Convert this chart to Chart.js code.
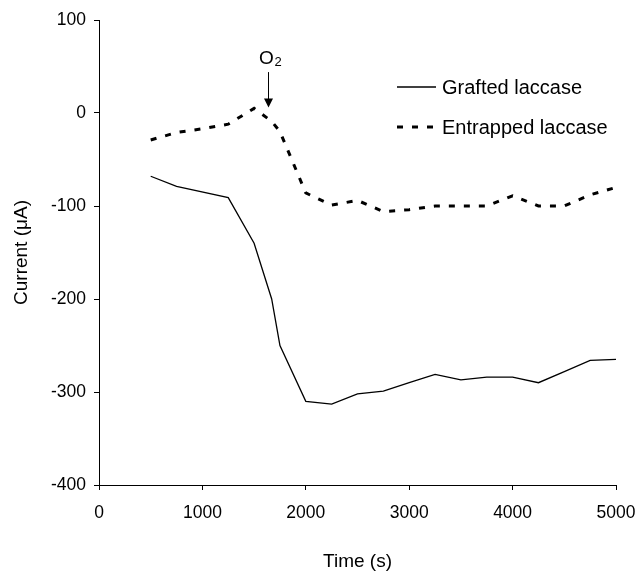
<!DOCTYPE html>
<html>
<head>
<meta charset="utf-8">
<script src="https://cdn.jsdelivr.net/npm/chart.js@4.4.1/dist/chart.umd.min.js"></script>
<style>
  html, body { margin: 0; padding: 0; background: #fff; }
  canvas { display: block; }
</style>
</head>
<body>
<canvas id="chart" width="638" height="572"></canvas>
<script>
// values
const graftedTimes = [500, 750, 1250, 1500, 1670, 1750, 2000, 2250, 2500, 2750, 3000, 3250, 3500, 3750, 4000, 4250, 4500, 4750, 5000];
const graftedCurrent = [-68, -79, -91, -140, -200, -250, -310, -313, -302, -299, -290, -281, -287, -284, -284, -290, -278, -266, -265];

const entrappedTimes = [500, 750, 1000, 1250, 1500, 1670, 1750, 2000, 2250, 2500, 2750, 3000, 3250, 3500, 3750, 4000, 4250, 4500, 4750, 5000];
const entrappedCurrent = [-29, -21, -17, -12, 5, -9, -20, -86, -99, -94, -106, -104, -100, -100, -100, -89, -100, -100, -88, -80];

const seriesNames = ["Grafted laccase", "Entrapped laccase"];
const xTicks = [0, 1000, 2000, 3000, 4000, 5000];
const yTicks = [-400, -300, -200, -100, 0, 100];

// O2 injection marker (time, arrow start, arrow tip in µA)
const o2Time = 1630;
const o2ArrowTop = 44;
const o2ArrowTip = 6;

const FONT = "'Liberation Sans', Arial, sans-serif";

function toPoints(xs, ys) {
    return xs.map((x, i) => ({ x: x, y: ys[i] }));
}

// legend drawn inside the plot, like the original figure
const legendPlugin = {
    id: 'insideLegend',
    afterDraw(chart) {
        const ctx = chart.ctx;
        const rows = [
            { y: 87, ds: chart.data.datasets[0] },
            { y: 127, ds: chart.data.datasets[1] }
        ];
        ctx.save();
        rows.forEach(r => {
            ctx.beginPath();
            ctx.strokeStyle = r.ds.borderColor;
            ctx.lineWidth = r.ds.borderWidth;
            ctx.setLineDash(r.ds.borderDash || []);
            ctx.moveTo(397, r.y);
            ctx.lineTo(436, r.y);
            ctx.stroke();
            ctx.setLineDash([]);
            ctx.fillStyle = '#000';
            ctx.font = '20px ' + FONT;
            ctx.textBaseline = 'middle';
            ctx.textAlign = 'left';
            ctx.fillText(r.ds.label, 442, r.y + 1);
        });
        ctx.restore();
    }
};

// O2 label with arrow
const o2Plugin = {
    id: 'o2Marker',
    afterDraw(chart) {
        const ctx = chart.ctx;
        const xs = chart.scales.x, ys = chart.scales.y;
        const px = Math.round(xs.getPixelForValue(o2Time)) + 0.5;
        const top = ys.getPixelForValue(o2ArrowTop);
        const tip = ys.getPixelForValue(o2ArrowTip);
        ctx.save();
        ctx.strokeStyle = '#000';
        ctx.fillStyle = '#000';
        ctx.lineWidth = 1;
        ctx.beginPath();
        ctx.moveTo(px, top);
        ctx.lineTo(px, tip - 8);
        ctx.stroke();
        ctx.beginPath();
        ctx.moveTo(px - 4.5, tip - 9);
        ctx.lineTo(px + 4.5, tip - 9);
        ctx.lineTo(px, tip);
        ctx.closePath();
        ctx.fill();
        ctx.textBaseline = 'alphabetic';
        ctx.textAlign = 'left';
        ctx.font = '19px ' + FONT;
        ctx.fillText('O', px - 9.5, top - 8);
        ctx.font = '13px ' + FONT;
        ctx.fillText('2', px + 6, top - 6);
        ctx.restore();
    }
};

new Chart(document.getElementById('chart'), {
    type: 'line',
    data: {
        datasets: [
            {
                label: seriesNames[0],
                data: toPoints(graftedTimes, graftedCurrent),
                borderColor: '#000',
                borderWidth: 1.3,
                pointRadius: 0,
                tension: 0,
                fill: false
            },
            {
                label: seriesNames[1],
                data: toPoints(entrappedTimes, entrappedCurrent),
                borderColor: '#000',
                borderWidth: 3,
                borderDash: [6, 9],
                pointRadius: 0,
                tension: 0,
                fill: false
            }
        ]
    },
    options: {
        responsive: false,
        maintainAspectRatio: false,
        animation: false,
        layout: { padding: { left: 0, top: 20, right: 22, bottom: 0 } },
        plugins: {
            legend: { display: false },
            tooltip: { enabled: false }
        },
        scales: {
            x: {
                type: 'linear',
                min: 0,
                max: 5000,
                afterBuildTicks: s => { s.ticks = xTicks.map(v => ({ value: v })); },
                afterFit: s => {
                    s.height = 87;
                    s.paddingLeft = 0;
                    s.paddingRight = 0;
                },
                grid: { drawOnChartArea: false, drawTicks: true, tickLength: 5, color: '#000' },
                border: { display: true, color: '#000', width: 1 },
                ticks: {
                    color: '#000',
                    font: { family: FONT, size: 17.5 },
                    padding: 13,
                    maxRotation: 0,
                    callback: v => String(v)
                },
                title: {
                    display: true,
                    text: 'Time (s)',
                    color: '#000',
                    font: { family: FONT, size: 19, lineHeight: 1 },
                    padding: { top: 0, bottom: 1 }
                }
            },
            y: {
                type: 'linear',
                min: -400,
                max: 100,
                afterBuildTicks: s => { s.ticks = yTicks.map(v => ({ value: v })); },
                afterFit: s => {
                    s.width = 99;
                    s.paddingTop = 0;
                    s.paddingBottom = 0;
                },
                grid: { drawOnChartArea: false, drawTicks: true, tickLength: 5, color: '#000' },
                border: { display: true, color: '#000', width: 1 },
                ticks: { color: '#000', font: { family: FONT, size: 17.5 }, padding: 8, callback: v => String(v) },
                title: {
                    display: true,
                    text: 'Current (μA)',
                    color: '#000',
                    font: { family: FONT, size: 19, lineHeight: 1 },
                    padding: { top: 12, bottom: 0 }
                }
            }
        }
    },
    plugins: [legendPlugin, o2Plugin]
});
</script>
</body>
</html>
